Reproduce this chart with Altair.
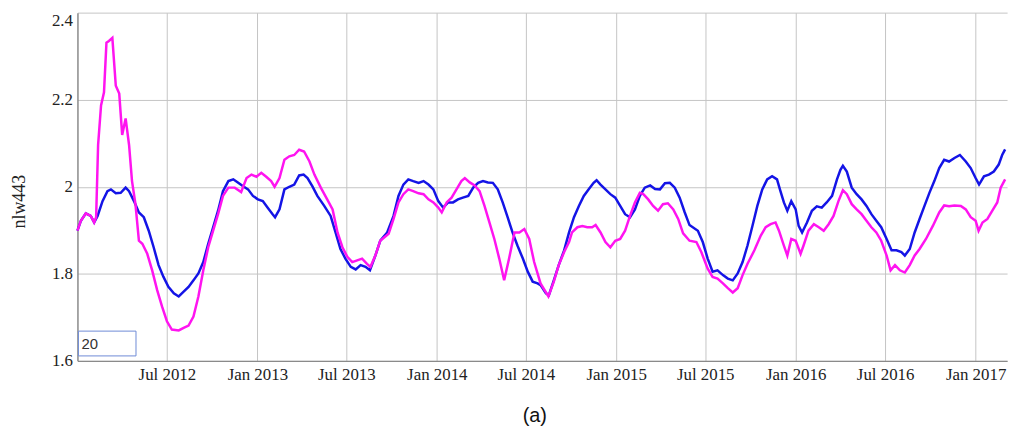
import altair as alt
import pandas as pd

# days since 2012-01-01
blue_days = [0, 7, 17, 27, 34, 41, 51, 61, 68, 78, 88, 98, 105, 115, 125, 135, 145, 155, 165, 175,
             185, 196, 206, 216, 226, 236, 246, 256, 266, 276, 286, 296, 307, 317, 327, 337, 347, 357, 367, 377,
             387, 397, 402, 411, 421, 431, 441, 451, 460, 468, 478, 488, 502, 515, 525, 535, 545, 556, 566, 576,
             586, 595, 606, 616, 630, 643, 653, 663, 673, 683, 694, 704, 714, 724, 734, 744, 754, 764, 774, 784,
             795, 805, 815, 825, 835, 845, 855, 865, 875, 885, 895, 906, 916, 926, 936, 942, 953, 959, 969, 979,
             990, 1000, 1010, 1020, 1030, 1040, 1050, 1056, 1064, 1074, 1084, 1094, 1104, 1114, 1124, 1134, 1144, 1154, 1165, 1175,
             1185, 1195, 1205, 1215, 1225, 1235, 1245, 1262, 1272, 1282, 1292, 1302, 1313, 1323, 1333, 1343, 1353, 1363, 1373, 1383,
             1393, 1403, 1413, 1423, 1430, 1437, 1444, 1452, 1461, 1467, 1474, 1484, 1494, 1504, 1514, 1524, 1535, 1545, 1552, 1557,
             1565, 1575, 1585, 1595, 1605, 1615, 1625, 1635, 1646, 1656, 1666, 1676, 1683, 1693, 1703, 1713, 1723, 1733, 1743, 1753,
             1763, 1773, 1784, 1795, 1807, 1817, 1827, 1834, 1844, 1854, 1864, 1874, 1881, 1887]
blue_vals = [1.899, 1.922, 1.939, 1.933, 1.918, 1.933, 1.967, 1.990, 1.994, 1.985, 1.986, 1.998, 1.990, 1.967, 1.941, 1.930, 1.899, 1.861, 1.820, 1.793,
             1.770, 1.755, 1.748, 1.759, 1.770, 1.785, 1.801, 1.827, 1.869, 1.907, 1.945, 1.990, 2.013, 2.017, 2.009, 2.001, 1.994, 1.979, 1.971, 1.967,
             1.952, 1.937, 1.930, 1.948, 1.994, 2.000, 2.005, 2.026, 2.028, 2.020, 2.001, 1.979, 1.956, 1.933, 1.895, 1.857, 1.835, 1.816, 1.810, 1.820,
             1.816, 1.808, 1.842, 1.876, 1.895, 1.933, 1.979, 2.005, 2.017, 2.013, 2.009, 2.013, 2.005, 1.994, 1.967, 1.952, 1.964, 1.964, 1.971, 1.975,
             1.979, 1.998, 2.009, 2.013, 2.010, 2.009, 1.994, 1.964, 1.930, 1.895, 1.865, 1.835, 1.805, 1.782, 1.778, 1.774, 1.755, 1.751, 1.785, 1.820,
             1.854, 1.895, 1.930, 1.956, 1.979, 1.994, 2.009, 2.015, 2.005, 1.994, 1.983, 1.975, 1.956, 1.937, 1.930, 1.948, 1.979, 1.998, 2.003, 1.995,
             1.994, 2.008, 2.009, 1.998, 1.975, 1.942, 1.912, 1.899, 1.873, 1.835, 1.805, 1.808, 1.797, 1.789, 1.785, 1.801, 1.827, 1.865, 1.910, 1.956,
             1.994, 2.017, 2.024, 2.017, 1.990, 1.964, 1.945, 1.967, 1.948, 1.910, 1.895, 1.918, 1.945, 1.955, 1.952, 1.964, 1.979, 2.017, 2.039, 2.048,
             2.035, 1.998, 1.983, 1.971, 1.956, 1.937, 1.922, 1.907, 1.880, 1.854, 1.854, 1.850, 1.842, 1.857, 1.895, 1.926, 1.956, 1.986, 2.013, 2.043,
             2.062, 2.058, 2.066, 2.073, 2.058, 2.043, 2.020, 2.005, 2.024, 2.028, 2.035, 2.051, 2.073, 2.086]

mag_days = [0, 7, 17, 27, 34, 38, 42, 48, 54, 59, 64, 71, 78, 85, 91, 98, 105, 111, 118, 125,
            132, 142, 152, 162, 172, 182, 192, 206, 216, 226, 236, 246, 256, 266, 276, 286, 296, 307, 320, 333,
            344, 354, 364, 374, 384, 394, 401, 411, 421, 431, 441, 451, 461, 472, 482, 495, 508, 519, 529, 539,
            549, 559, 569, 579, 589, 596, 606, 616, 633, 643, 653, 663, 673, 683, 694, 704, 714, 724, 734, 741,
            751, 761, 771, 781, 788, 798, 808, 818, 828, 838, 848, 858, 868, 878, 889, 899, 909, 919, 929, 942,
            958, 969, 979, 990, 1000, 1006, 1017, 1027, 1037, 1047, 1054, 1064, 1074, 1084, 1094, 1104, 1114, 1124, 1134, 1144,
            1151, 1161, 1171, 1181, 1191, 1201, 1212, 1222, 1232, 1245, 1259, 1269, 1282, 1292, 1302, 1313, 1323, 1333, 1343, 1353,
            1363, 1377, 1390, 1400, 1410, 1420, 1427, 1437, 1444, 1452, 1461, 1471, 1477, 1487, 1498, 1508, 1518, 1528, 1538, 1548,
            1557, 1565, 1575, 1585, 1595, 1605, 1615, 1625, 1635, 1646, 1654, 1663, 1673, 1683, 1693, 1703, 1713, 1726, 1740, 1753,
            1763, 1773, 1784, 1797, 1807, 1817, 1827, 1833, 1841, 1851, 1861, 1871, 1878, 1887]
mag_vals = [1.899, 1.922, 1.939, 1.933, 1.918, 1.930, 2.096, 2.187, 2.217, 2.331, 2.335, 2.342, 2.232, 2.214, 2.119, 2.157, 2.096, 2.013, 1.960, 1.876,
            1.869, 1.846, 1.808, 1.763, 1.725, 1.691, 1.672, 1.670, 1.676, 1.681, 1.702, 1.748, 1.808, 1.861, 1.899, 1.937, 1.979, 1.998, 1.998, 1.988,
            2.020, 2.028, 2.023, 2.032, 2.023, 2.013, 2.000, 2.020, 2.062, 2.070, 2.073, 2.085, 2.081, 2.058, 2.028, 1.998, 1.971, 1.948, 1.895, 1.861,
            1.839, 1.827, 1.831, 1.835, 1.823, 1.816, 1.842, 1.876, 1.892, 1.926, 1.964, 1.983, 1.994, 1.990, 1.985, 1.983, 1.971, 1.964, 1.952, 1.941,
            1.964, 1.975, 1.994, 2.013, 2.020, 2.010, 2.003, 1.990, 1.956, 1.918, 1.880, 1.835, 1.785, 1.835, 1.895, 1.895, 1.903, 1.880, 1.827, 1.778,
            1.748, 1.782, 1.820, 1.850, 1.873, 1.895, 1.907, 1.910, 1.907, 1.907, 1.912, 1.895, 1.873, 1.861, 1.876, 1.880, 1.899, 1.933, 1.964, 1.986,
            1.983, 1.971, 1.956, 1.945, 1.960, 1.962, 1.948, 1.926, 1.893, 1.876, 1.873, 1.850, 1.812, 1.793, 1.789, 1.778, 1.767, 1.757, 1.767, 1.797,
            1.823, 1.854, 1.888, 1.907, 1.914, 1.918, 1.899, 1.865, 1.842, 1.880, 1.876, 1.846, 1.865, 1.899, 1.914, 1.907, 1.899, 1.914, 1.933, 1.967,
            1.992, 1.983, 1.960, 1.948, 1.937, 1.922, 1.907, 1.895, 1.876, 1.842, 1.808, 1.820, 1.808, 1.803, 1.820, 1.842, 1.857, 1.880, 1.910, 1.941,
            1.957, 1.955, 1.957, 1.956, 1.948, 1.930, 1.922, 1.899, 1.918, 1.926, 1.945, 1.964, 1.998, 2.017]

series_names = ["nlw443 (blue)", "nlw443 (magenta)"]
series_colors = ["#1414e6", "#ff14f0"]
y_ticks = [1.6, 1.8, 2.0, 2.2, 2.4]
tick_months = [(2012, 7), (2013, 1), (2013, 7), (2014, 1), (2014, 7), (2015, 1), (2015, 7),
               (2016, 1), (2016, 7), (2017, 1)]
input_value = "20"
caption = "(a)"

start = pd.Timestamp("2012-01-01")


def frame(days, vals, name):
    return pd.DataFrame({
        "date": [(start + pd.Timedelta(days=d)).strftime("%Y-%m-%d") for d in days],
        "value": vals,
        "series": name,
    })


df = pd.concat([frame(blue_days, blue_vals, series_names[0]),
                frame(mag_days, mag_vals, series_names[1])], ignore_index=True)

x_values = [alt.DateTime(year=y, month=m, date=1, utc=True) for y, m in tick_months]

lines = alt.Chart(df).mark_line(strokeWidth=2.5, interpolate="linear").encode(
    x=alt.X("date:T",
            scale=alt.Scale(type="utc",
                            domain=[alt.DateTime(year=2012, month=1, date=1, utc=True),
                                    alt.DateTime(year=2017, month=3, date=6, utc=True)]),
            axis=alt.Axis(values=x_values, format="%b %Y", title=None, tickSize=0,
                          labelPadding=6, labelFont="Liberation Serif", labelFontSize=17,
                          labelColor="#222222", labelFlush=False,
                          domainColor="#8a8a8a", domainWidth=1.5,
                          gridColor="#c4c4c4", gridWidth=1)),
    y=alt.Y("value:Q",
            scale=alt.Scale(domain=[1.6, 2.4], nice=False, zero=False),
            axis=alt.Axis(values=y_ticks, format="~g", title="nlw443", tickSize=0,
                          labelPadding=5, labelFont="Liberation Serif", labelFontSize=17,
                          labelColor="#222222",
                          labelBaseline={"condition": {"test": "datum.value >= 2.39", "value": "top"},
                                         "value": "middle"},
                          titleFont="Liberation Serif", titleFontSize=18, titleFontWeight="normal",
                          titleColor="#222222", titleX=-58, titleY=190, titleAngle=270,
                          titleAlign="center", titleBaseline="middle",
                          domainColor="#8a8a8a", domainWidth=1.5,
                          gridColor="#c4c4c4", gridWidth=1)),
    color=alt.Color("series:N", scale=alt.Scale(domain=series_names, range=series_colors), legend=None),
    detail="series:N",
)

one = pd.DataFrame({"t": [input_value], "c": [caption]})

box = alt.Chart(one).mark_rect(fill="white", stroke="#6d8ad6", strokeWidth=1).encode(
    x=alt.value(1), x2=alt.value(59), y=alt.value(321), y2=alt.value(346))

box_text = alt.Chart(one).mark_text(align="left", baseline="middle", font="Liberation Sans",
                                    fontSize=15, color="#333333").encode(
    x=alt.value(4), y=alt.value(334), text="t:N")

cap = alt.Chart(one).mark_text(align="center", baseline="middle", font="Liberation Sans",
                               fontSize=20, color="#111111").encode(
    x=alt.value(461), y=alt.value(407), text="c:N")

chart = alt.layer(lines, box, box_text, cap).properties(
    width=937, height=351,
    autosize=alt.AutoSizeParams(type="none"),
    padding={"left": 70, "top": 3, "right": 10, "bottom": 68},
    background="white",
).configure_view(stroke=None)

chart.save("out.html", embed_options={"renderer": "svg", "actions": False})
